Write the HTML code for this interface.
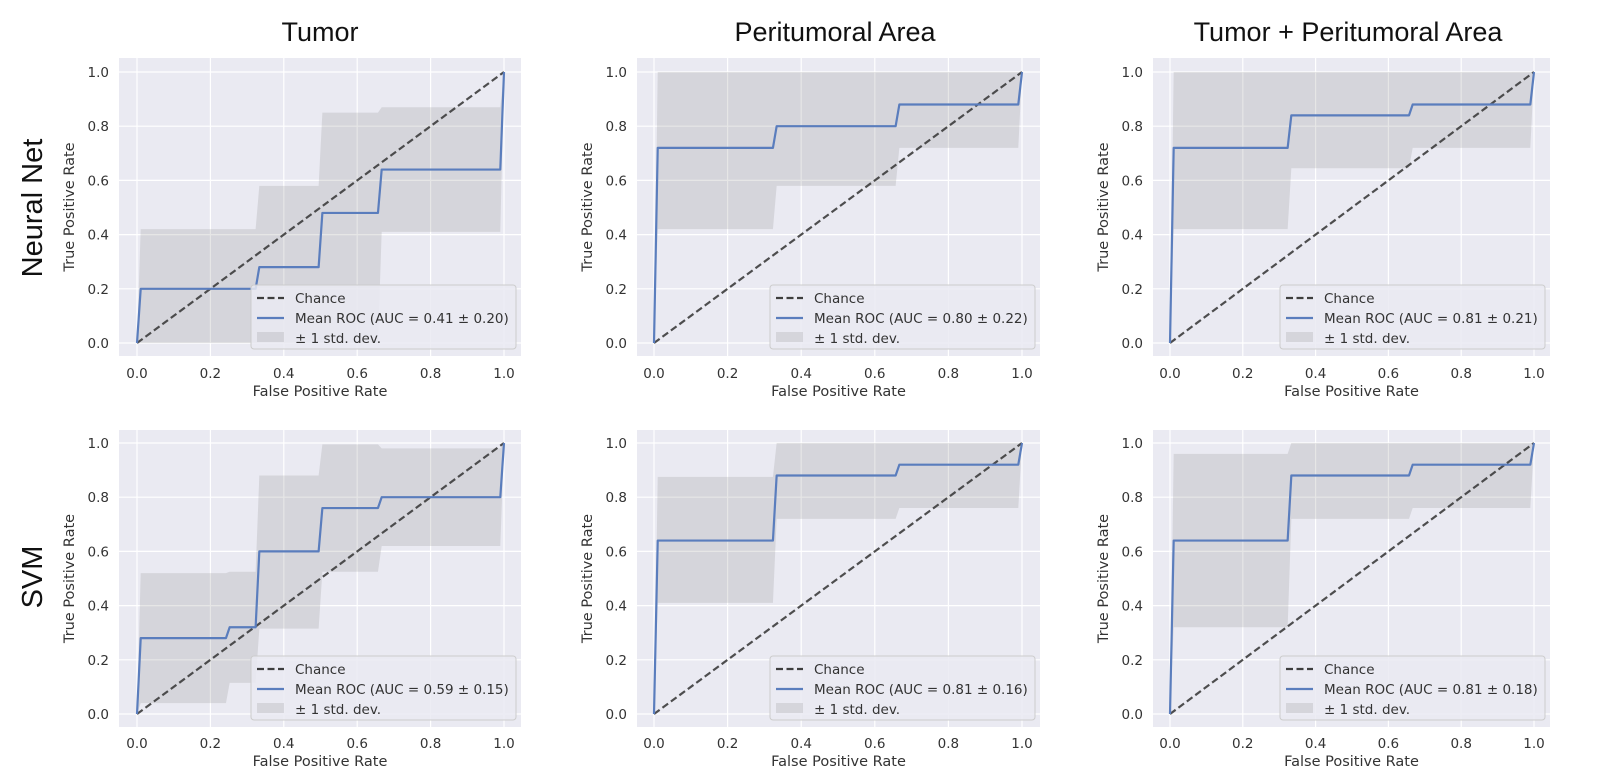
<!DOCTYPE html>
<html><head><meta charset="utf-8">
<style>
html,body{margin:0;padding:0;background:#fff;}
svg{display:block;}
text{font-family:"DejaVu Sans","Liberation Sans",sans-serif;fill:#333;}
.big{font-family:"Liberation Sans",sans-serif;fill:#111;}
</style></head>
<body>
<svg id="fig" width="1610" height="771" viewBox="0 0 1610 771" xmlns="http://www.w3.org/2000/svg">
<text class="big" x="320" y="41" font-size="27" text-anchor="middle">Tumor</text>
<text class="big" x="835" y="41" font-size="27" text-anchor="middle">Peritumoral Area</text>
<text class="big" x="1348" y="41" font-size="27" text-anchor="middle">Tumor + Peritumoral Area</text>
<text class="big" x="0" y="0" font-size="29" text-anchor="middle" transform="translate(42,208) rotate(-90)">Neural Net</text>
<text class="big" x="0" y="0" font-size="29" text-anchor="middle" transform="translate(42,577) rotate(-90)">SVM</text>
</svg>
<script>
// ---- data ----
const tickValues = [0, 0.2, 0.4, 0.6, 0.8, 1.0];
const tickLabels = ["0.0", "0.2", "0.4", "0.6", "0.8", "1.0"];
const aucLabels = ["0.41 ± 0.20", "0.80 ± 0.22", "0.81 ± 0.21", "0.59 ± 0.15", "0.81 ± 0.16", "0.81 ± 0.18"];

const fprA = [0, 0.0101, 0.3232, 0.3333, 0.4949, 0.5051, 0.6566, 0.6667, 0.9899, 1];
const fprSvmTumor = [0, 0.0101, 0.2424, 0.2525, 0.3232, 0.3333, 0.4949, 0.5051, 0.6566, 0.6667, 0.9899, 1];

// Neural Net - Tumor
const nnTumorTpr   = [0, 0.20, 0.20, 0.28, 0.28, 0.48, 0.48, 0.64, 0.64, 1];
const nnTumorUpper = [0, 0.42, 0.42, 0.58, 0.58, 0.85, 0.85, 0.87, 0.87, 1];
const nnTumorLower = [0, 0.00, 0.00, 0.00, 0.00, 0.00, 0.00, 0.41, 0.41, 1];
// Neural Net - Peritumoral
const nnPeriTpr   = [0, 0.72, 0.72, 0.80, 0.80, 0.80, 0.80, 0.88, 0.88, 1];
const nnPeriUpper = [0, 1.00, 1.00, 1.00, 1.00, 1.00, 1.00, 1.00, 1.00, 1];
const nnPeriLower = [0, 0.42, 0.42, 0.58, 0.58, 0.58, 0.58, 0.72, 0.72, 1];
// Neural Net - Tumor + Peritumoral
const nnBothTpr   = [0, 0.72, 0.72, 0.84, 0.84, 0.84, 0.84, 0.88, 0.88, 1];
const nnBothUpper = [0, 1.00, 1.00, 1.00, 1.00, 1.00, 1.00, 1.00, 1.00, 1];
const nnBothLower = [0, 0.42, 0.42, 0.645, 0.645, 0.645, 0.645, 0.72, 0.72, 1];
// SVM - Tumor
const svmTumorTpr   = [0, 0.28, 0.28, 0.32, 0.32, 0.60, 0.60, 0.76, 0.76, 0.80, 0.80, 1];
const svmTumorUpper = [0, 0.52, 0.52, 0.525, 0.525, 0.88, 0.88, 0.995, 0.995, 0.98, 0.98, 1];
const svmTumorLower = [0, 0.04, 0.04, 0.115, 0.115, 0.315, 0.315, 0.525, 0.525, 0.62, 0.62, 1];
// SVM - Peritumoral
const svmPeriTpr   = [0, 0.64, 0.64, 0.88, 0.88, 0.88, 0.88, 0.92, 0.92, 1];
const svmPeriUpper = [0, 0.875, 0.875, 1.00, 1.00, 1.00, 1.00, 1.00, 1.00, 1];
const svmPeriLower = [0, 0.41, 0.41, 0.72, 0.72, 0.72, 0.72, 0.76, 0.76, 1];
// SVM - Tumor + Peritumoral
const svmBothTpr   = [0, 0.64, 0.64, 0.88, 0.88, 0.88, 0.88, 0.92, 0.92, 1];
const svmBothUpper = [0, 0.96, 0.96, 1.00, 1.00, 1.00, 1.00, 1.00, 1.00, 1];
const svmBothLower = [0, 0.32, 0.32, 0.72, 0.72, 0.72, 0.72, 0.76, 0.76, 1];

// ---- layout ----
const NS = "http://www.w3.org/2000/svg";
const svg = document.getElementById('fig');
const colX = [{bg0:119,bg1:521,x0:137,x1:504},{bg0:637,bg1:1040,x0:654,x1:1022},{bg0:1153,bg1:1550,x0:1170,x1:1534}];
const rowY = [{bg0:58,bg1:356,y1:72,y0:343,tick:378,lab:396},{bg0:430,bg1:727,y1:443,y0:714,tick:748,lab:766}];
const panels = [
 {r:0,c:0,name:'nn-tumor',fpr:fprA,tpr:nnTumorTpr,up:nnTumorUpper,lo:nnTumorLower,auc:aucLabels[0]},
 {r:0,c:1,name:'nn-peritumoral',fpr:fprA,tpr:nnPeriTpr,up:nnPeriUpper,lo:nnPeriLower,auc:aucLabels[1]},
 {r:0,c:2,name:'nn-combined',fpr:fprA,tpr:nnBothTpr,up:nnBothUpper,lo:nnBothLower,auc:aucLabels[2]},
 {r:1,c:0,name:'svm-tumor',fpr:fprSvmTumor,tpr:svmTumorTpr,up:svmTumorUpper,lo:svmTumorLower,auc:aucLabels[3]},
 {r:1,c:1,name:'svm-peritumoral',fpr:fprA,tpr:svmPeriTpr,up:svmPeriUpper,lo:svmPeriLower,auc:aucLabels[4]},
 {r:1,c:2,name:'svm-combined',fpr:fprA,tpr:svmBothTpr,up:svmBothUpper,lo:svmBothLower,auc:aucLabels[5]}
];

function mk(tag, attrs, parent){
  const e = document.createElementNS(NS, tag);
  for (const k in attrs) e.setAttribute(k, attrs[k]);
  parent.appendChild(e);
  return e;
}

panels.forEach(p => {
  const C = colX[p.c], R = rowY[p.r];
  const sx = v => C.x0 + v*(C.x1-C.x0);
  const sy = v => R.y0 - v*(R.y0-R.y1);
  const g = mk('g', {}, svg);
  
  

  const bg = mk('rect', {x:C.bg0, y:R.bg0, width:C.bg1-C.bg0, height:R.bg1-R.bg0, fill:'#eaeaf2'}, g);
  
  

  tickValues.forEach((v,i) => {
    const gx = mk('line', {x1:sx(v), x2:sx(v), y1:R.bg0, y2:R.bg1, stroke:'#fff', 'stroke-width':1.2}, g);
    
    
    const gy = mk('line', {x1:C.bg0, x2:C.bg1, y1:sy(v), y2:sy(v), stroke:'#fff', 'stroke-width':1.2}, g);
    
    
    const tx = mk('text', {x:sx(v), y:R.tick, 'font-size':13.5, 'text-anchor':'middle'}, g);
    tx.textContent = tickLabels[i];
    
    
    const ty = mk('text', {x:C.bg0-10, y:sy(v)+5, 'font-size':13.5, 'text-anchor':'end'}, g);
    ty.textContent = tickLabels[i];
    
    
  });

  const xl = mk('text', {x:(C.bg0+C.bg1)/2, y:R.lab, 'font-size':14.5, 'text-anchor':'middle'}, g);
  xl.textContent = 'False Positive Rate';
  
  
  const ycx = C.bg0-45, ycy = (R.bg0+R.bg1)/2;
  const yl = mk('text', {x:0, y:0, 'font-size':14.5, 'text-anchor':'middle', transform:`translate(${ycx},${ycy}) rotate(-90)`}, g);
  yl.textContent = 'True Positive Rate';
  
  

  // std band
  let pts = p.fpr.map((f,i) => sx(f)+','+sy(p.up[i]));
  for (let i=p.fpr.length-1;i>=0;i--) pts.push(sx(p.fpr[i])+','+sy(p.lo[i]));
  const band = mk('polygon', {points:pts.join(' '), fill:'#808080', 'fill-opacity':0.2}, g);
  
  

  const ch = mk('line', {x1:sx(0), y1:sy(0), x2:sx(1), y2:sy(1), stroke:'#3d3d3d', 'stroke-width':2.2, 'stroke-dasharray':'7,3.5', opacity:0.9}, g);
  
  

  const roc = mk('polyline', {points:p.fpr.map((f,i)=>sx(f)+','+sy(p.tpr[i])).join(' '), fill:'none', stroke:'#5a7dbd', 'stroke-width':2.2, 'stroke-linejoin':'round'}, g);
  
  

  // legend
  const lx1 = C.bg1-5, lx0 = lx1-265, ly1 = R.bg1-7, ly0 = ly1-64;
  const lg = mk('g', {}, g);
  
  
  mk('rect', {x:lx0, y:ly0, width:lx1-lx0, height:ly1-ly0, rx:3, fill:'#eaeaf2', 'fill-opacity':0.85, stroke:'#cccccc', 'stroke-width':1}, lg);
  const hx0 = lx0+6, hx1 = lx0+33, tx0 = lx0+44;
  const e1 = mk('line', {x1:hx0, x2:hx1, y1:ly0+13, y2:ly0+13, stroke:'#3d3d3d', 'stroke-width':2.2, 'stroke-dasharray':'7,3.5'}, lg);
  
  
  const t1 = mk('text', {x:tx0, y:ly0+18, 'font-size':13.5}, lg);
  t1.textContent = 'Chance';
  
  
  const e2 = mk('line', {x1:hx0, x2:hx1, y1:ly0+33, y2:ly0+33, stroke:'#5a7dbd', 'stroke-width':2.2}, lg);
  
  
  const t2 = mk('text', {x:tx0, y:ly0+38, 'font-size':13.5}, lg);
  t2.textContent = 'Mean ROC (AUC = ' + p.auc + ')';
  
  
  const e3 = mk('rect', {x:hx0, y:ly0+47, width:hx1-hx0, height:10, fill:'#808080', 'fill-opacity':0.2}, lg);
  
  
  const t3 = mk('text', {x:tx0, y:ly0+58, 'font-size':13.5}, lg);
  t3.textContent = '± 1 std. dev.';
  
  
});
</script>
</body></html>
